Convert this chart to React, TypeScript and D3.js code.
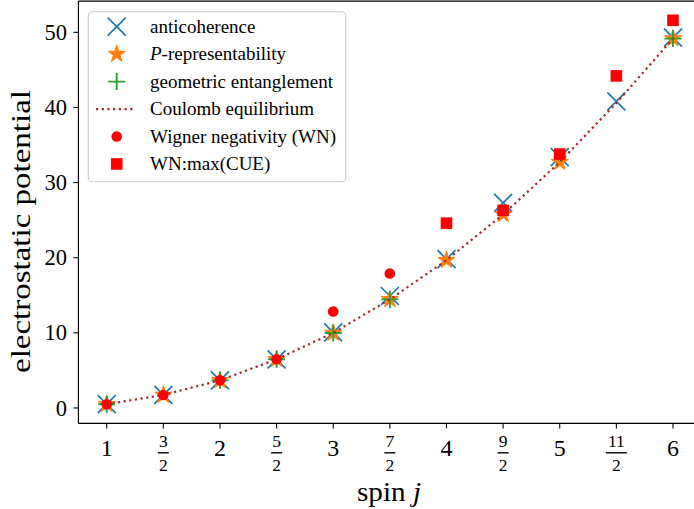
import React from 'react';
import * as d3 from 'd3';

const spins = [1, 1.5, 2, 2.5, 3, 3.5, 4, 4.5, 5, 5.5, 6];
const coulomb = [0.5, 1.732, 3.674, 6.475, 9.985, 14.453, 19.675, 25.76, 32.717, 40.596, 49.165];
const antiJ = [1, 1.5, 2, 2.5, 3, 3.5, 4, 4.5, 5, 5.5, 6];
const antiV = [0.5, 1.732, 3.674, 6.475, 10.05, 14.9, 19.8, 27.3, 33.4, 40.8, 49.3];
const pRepJ = [1, 1.5, 2, 2.5, 3, 3.5, 4, 4.5, 5, 6];
const pRepV = [0.5, 1.732, 3.674, 6.475, 9.985, 14.453, 19.675, 25.76, 32.717, 49.165];
const geoJ = [1, 2, 2.5, 3, 3.5, 6];
const geoV = [0.5, 3.674, 6.475, 9.985, 14.453, 49.165];
const wnJ = [1, 1.5, 2, 2.5, 3, 3.5];
const wnV = [0.5, 1.732, 3.674, 6.475, 12.84, 17.9];
const wnMaxJ = [4, 4.5, 5, 5.5, 6];
const wnMaxV = [24.6, 26.3, 33.8, 44.2, 51.6];
const yTicks = [0, 10, 20, 30, 40, 50];
const xTickLabels = ['1', '3/2', '2', '5/2', '3', '7/2', '4', '9/2', '5', '11/2', '6'];
const legendLabels = ['anticoherence', 'P-representability', 'geometric entanglement', 'Coulomb equilibrium', 'Wigner negativity (WN)', 'WN:max(CUE)'];

const BLUE = '#1f77b4';
const ORANGE = '#ff7f0e';
const GREEN = '#2ca02c';
const BROWN = '#a52a2a';
const RED = '#ff0000';
const FONT = '"Liberation Serif", "Times New Roman", serif';

const W = 694;
const H = 509;

const x = d3.scaleLinear().domain([0.75, 6.25]).range([78.4, 701.3]);
const y = d3.scaleLinear().domain([-2.055, 54.155]).range([423.4, 1.1]);

function starPath(r: number) {
  const pts: [number, number][] = [];
  for (let i = 0; i < 10; i++) {
    const rr = i % 2 === 0 ? r : r * 0.381966;
    const a = -Math.PI / 2 + (i * Math.PI) / 5;
    pts.push([rr * Math.cos(a), rr * Math.sin(a)]);
  }
  return 'M' + pts.map((p) => p.join(',')).join('L') + 'Z';
}

const XMark = ({ cx, cy }: { cx: number; cy: number }) => {
  const s = 9;
  return (
    <path d={`M${cx - s},${cy - s}L${cx + s},${cy + s}M${cx - s},${cy + s}L${cx + s},${cy - s}`} stroke={BLUE} strokeWidth={1.7} fill="none" />
  );
};
const StarMark = ({ cx, cy }: { cx: number; cy: number }) => (
  <path d={starPath(9)} transform={`translate(${cx},${cy})`} fill={ORANGE} stroke={ORANGE} strokeWidth={1} />
);
const PlusMark = ({ cx, cy }: { cx: number; cy: number }) => {
  const s = 8.5;
  return <path d={`M${cx - s},${cy}L${cx + s},${cy}M${cx},${cy - s}L${cx},${cy + s}`} stroke={GREEN} strokeWidth={1.9} fill="none" />;
};
const CircleMark = ({ cx, cy }: { cx: number; cy: number }) => <circle cx={cx} cy={cy} r={5.3} fill={RED} />;
const SquareMark = ({ cx, cy }: { cx: number; cy: number }) => <rect x={cx - 5.8} y={cy - 5.8} width={11.6} height={11.6} fill={RED} />;

export default function App() {
  const line = d3
    .line<number>()
    .x((_, i) => x(spins[i]))
    .y((d) => y(d));
  const dotted = { stroke: BROWN, strokeWidth: 2.2, strokeDasharray: '2.2,3.5', fill: 'none' };

  const legendX = 116.7;
  const legendY0 = 26.7;
  const legendDy = 27.45;

  return (
    <svg width={W} height={H} style={{ position: 'absolute', left: 0, top: 0, background: '#fff' }} fontFamily={FONT}>
      <rect x={0} y={0} width={W} height={H} fill="#fff" />
      {/* spines */}
      <line x1={x(0.75)} x2={x(0.75)} y1={y(-2.055)} y2={y(54.155)} stroke="#000" strokeWidth={1.1} />
      <line x1={x(0.75)} x2={x(6.25)} y1={y(-2.055)} y2={y(-2.055)} stroke="#000" strokeWidth={1.1} />
      <line x1={x(0.75)} x2={x(6.25)} y1={y(54.155)} y2={y(54.155)} stroke="#000" strokeWidth={1.1} />

      {/* y ticks */}
      {yTicks.map((t) => (
        <g key={t}>
          <line x1={x(0.75) - 5} x2={x(0.75)} y1={y(t)} y2={y(t)} stroke="#000" strokeWidth={1.1} />
          <text x={67} y={y(t)} dy="0.34em" textAnchor="end" fontSize={22.5}>
            {t}
          </text>
        </g>
      ))}
      {/* x ticks */}
      {spins.map((s, i) => {
        const lab = xTickLabels[i];
        const px = x(s);
        const parts = lab.split('/');
        return (
          <g key={s}>
            <line x1={px} x2={px} y1={y(-2.055)} y2={y(-2.055) + 5} stroke="#000" strokeWidth={1.1} />
            {parts.length === 1 ? (
              <text x={px} y={455.5} textAnchor="middle" fontSize={24}>
                {lab}
              </text>
            ) : (
              <g>
                <text x={px} y={446.5} textAnchor="middle" fontSize={17.5}>
                  {parts[0]}
                </text>
                <line x1={px - (parts[0].length > 1 ? 10.5 : 5.5)} x2={px + (parts[0].length > 1 ? 10.5 : 5.5)} y1={452.8} y2={452.8} stroke="#000" strokeWidth={1.4} />
                <text x={px} y={470.5} textAnchor="middle" fontSize={17.5}>
                  {parts[1]}
                </text>
              </g>
            )}
          </g>
        );
      })}

      {/* axis labels */}
      <text x={389} y={501} textAnchor="middle" fontSize={28} textLength={64} lengthAdjust="spacingAndGlyphs">
        spin <tspan fontStyle="italic">j</tspan>
      </text>
      <text transform="translate(30,231.5) rotate(-90)" textAnchor="middle" fontSize={28} textLength={283} lengthAdjust="spacingAndGlyphs">
        electrostatic potential
      </text>

      {/* data */}
      {antiJ.map((j, i) => (
        <XMark key={'a' + j} cx={x(j)} cy={y(antiV[i])} />
      ))}
      {pRepJ.map((j, i) => (
        <StarMark key={'p' + j} cx={x(j)} cy={y(pRepV[i])} />
      ))}
      {geoJ.map((j, i) => (
        <PlusMark key={'g' + j} cx={x(j)} cy={y(geoV[i])} />
      ))}
      <path d={line(coulomb) || ''} {...dotted} />
      {wnJ.map((j, i) => (
        <CircleMark key={'w' + j} cx={x(j)} cy={y(wnV[i])} />
      ))}
      {wnMaxJ.map((j, i) => (
        <SquareMark key={'m' + j} cx={x(j)} cy={y(wnMaxV[i])} />
      ))}

      {/* legend */}
      <rect x={88.3} y={11.7} width={257.4} height={170} rx={4} fill="#fff" fillOpacity={0.8} stroke="#cccccc" strokeWidth={1.1} />
      <XMark cx={legendX} cy={legendY0} />
      <StarMark cx={legendX} cy={legendY0 + legendDy} />
      <PlusMark cx={legendX} cy={legendY0 + 2 * legendDy} />
      <line x1={96} x2={134} y1={legendY0 + 3 * legendDy} y2={legendY0 + 3 * legendDy} {...dotted} />
      <CircleMark cx={legendX} cy={legendY0 + 4 * legendDy} />
      <SquareMark cx={legendX} cy={legendY0 + 5 * legendDy} />
      {legendLabels.map((l, i) => (
        <text key={l} x={150} y={legendY0 + i * legendDy} dy="0.33em" fontSize={19}>
          {l.startsWith('P-') ? (
            <>
              <tspan fontStyle="italic">P</tspan>
              {l.slice(1)}
            </>
          ) : (
            l
          )}
        </text>
      ))}
    </svg>
  );
}
